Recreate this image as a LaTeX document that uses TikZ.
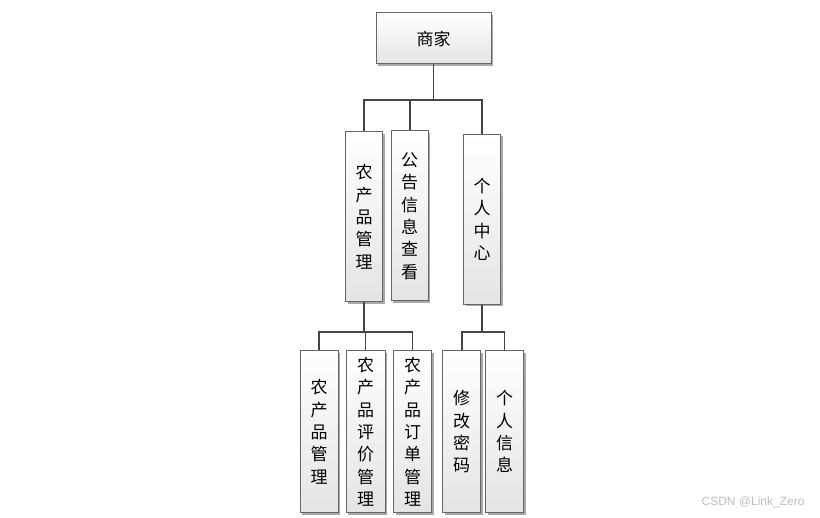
\documentclass[tikz,border=0pt]{standalone}
\usepackage{fontspec}
\newfontfamily\cjk{Noto Sans CJK SC}
\setmainfont{Liberation Sans}
\usetikzlibrary{shadows}
\definecolor{boxline}{HTML}{666666}
\definecolor{conncol}{HTML}{444444}
\definecolor{boxbot}{HTML}{E4E4E4}
\definecolor{shadowcol}{HTML}{A8A8A8}
\begin{document}
\begin{tikzpicture}[x=1pt,y=-1pt,
  box/.style={draw=boxline, line width=1pt, top color=white, bottom color=boxbot,
    inner sep=0pt, align=center,
    drop shadow={shadow xshift=2pt, shadow yshift=-2pt, fill=shadowcol, opacity=1},
    font=\cjk\fontsize{17}{22.3}\selectfont},
  conn/.style={draw=conncol, line width=1.8pt}]
\useasboundingbox (0,0) rectangle (820,518);
\fill[white] (0,0) rectangle (820,518);

\node[box, minimum width=115pt, minimum height=51pt] (top) at (433.5,38.5) {商家};

\node[box, minimum width=37pt, minimum height=170pt] (m1) at (364,216.7) {农\\产\\品\\管\\理};
\node[box, minimum width=37pt, minimum height=170pt] (m2) at (409.7,216) {公\\告\\信\\息\\查\\看};
\node[box, minimum width=37pt, minimum height=170pt] (m3) at (482,219.3) {个\\人\\中\\心};

\node[box, minimum width=38pt, minimum height=162pt] (l1) at (319,431.7) {农\\产\\品\\管\\理};
\node[box, minimum width=39pt, minimum height=162pt] (l2) at (365.5,431.7) {农\\产\\品\\评\\价\\管\\理};
\node[box, minimum width=38pt, minimum height=162pt] (l3) at (412.5,431.7) {农\\产\\品\\订\\单\\管\\理};
\node[box, minimum width=38pt, minimum height=162pt] (l4) at (461.7,431.7) {修\\改\\密\\码};
\node[box, minimum width=38pt, minimum height=162pt] (l5) at (504.5,431.7) {个\\人\\信\\息};

\coordinate (busA) at (0,100);
\coordinate (busB) at (0,331.7);

\draw[conn] (m1.north) -- (m1.north |- busA) -- (m3.north |- busA) -- (m3.north);
\draw[conn] (m2.north) -- (m2.north |- busA);
\draw[conn] (top.south) -- (top.south |- busA);

\draw[conn] (l1.north) -- (l1.north |- busB) -- (l3.north |- busB) -- (l3.north);
\draw[conn] (l2.north) -- (l2.north |- busB);
\draw[conn] (m1.south) -- (m1.south |- busB);

\draw[conn] (l4.north) -- (l4.north |- busB) -- (l5.north |- busB) -- (l5.north);
\draw[conn] (m3.south) -- (m3.south |- busB);

\node[text=gray!50, font=\fontsize{12}{14}\selectfont, anchor=east] (wm) at (808,502) {CSDN @Link\_Zero};
\end{tikzpicture}
\end{document}
